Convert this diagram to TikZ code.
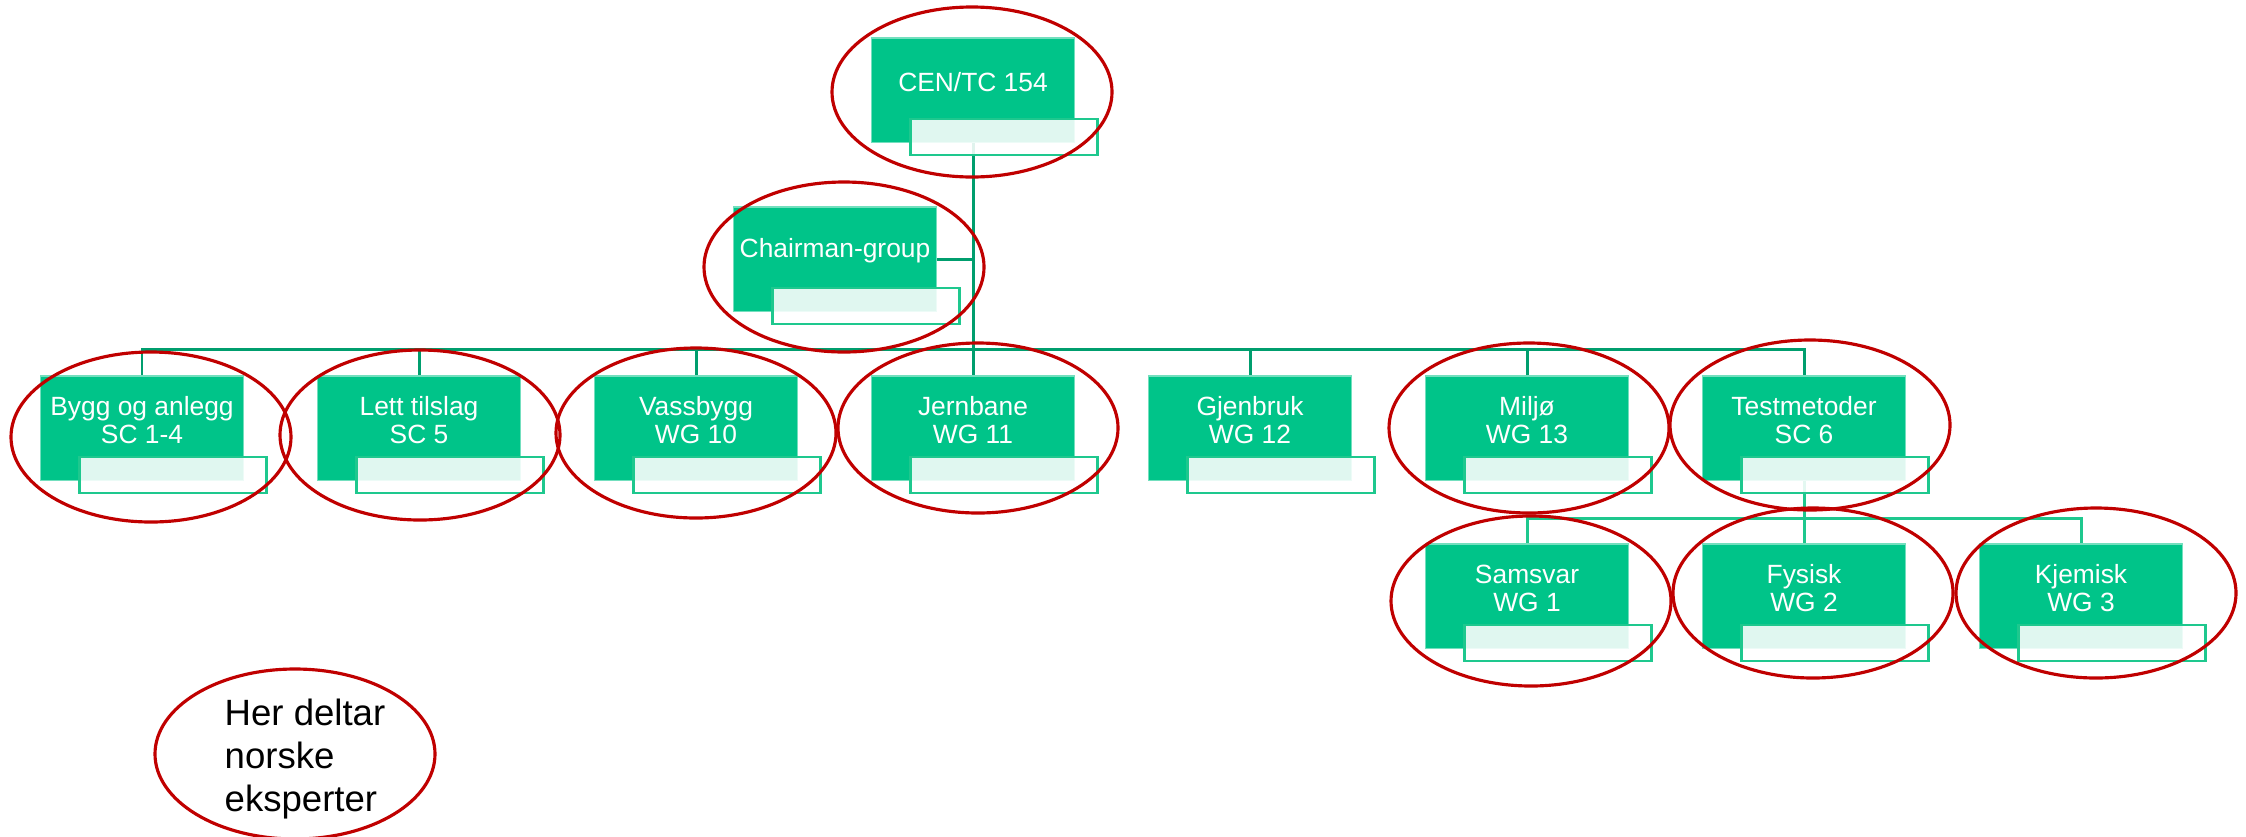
\documentclass[tikz,border=0pt]{standalone}
\usepackage{fontspec}
\setmainfont{Liberation Sans}
\usetikzlibrary{backgrounds}

\definecolor{tcgreen}{RGB}{0,196,137}
\definecolor{linkgreen}{RGB}{0,158,110}
\definecolor{subgreen}{RGB}{30,200,142}
\definecolor{ringred}{RGB}{192,0,0}

\tikzstyle{unit} = [fill=tcgreen, draw=tcgreen!55!white, line width=0.3pt, minimum width=2.03cm, minimum height=1.04cm, inner sep=0pt]
\tikzstyle{subunit} = [fill=white, fill opacity=0.88, draw=subgreen, line width=0.75pt, minimum width=1.87cm, minimum height=0.36cm, inner sep=0pt]
\tikzstyle{unitlabel} = [text=white, align=center, font=\fontsize{7.5}{8}\selectfont, inner sep=0pt]
\tikzstyle{legendtext} = [align=left, font=\fontsize{10.4}{12.2}\selectfont, inner sep=0pt]
\tikzstyle{link} = [draw=linkgreen, line width=0.85pt]
\tikzstyle{sublink} = [draw=subgreen, line width=0.85pt]
\tikzstyle{ring} = [draw=ringred, line width=0.9pt]

\begin{document}
\begin{tikzpicture}[x=0.01cm, y=-0.01cm]
	\useasboundingbox (0,0) rectangle (2246,836);

	% top of the tree
	\node (cen) at (973,90) [unit] {};
	\node (cen-s) at ([shift={(31,47)}]cen.center) [subunit] {};
	\node (cen-t) at ([shift={(0,-8)}]cen.center) [unitlabel] {CEN/TC 154};
	\node (chair) at (835,259) [unit] {};
	\node (chair-s) at ([shift={(31,47)}]chair.center) [subunit] {};
	\node (chair-t) at ([shift={(0,-8)}]chair.center) [unitlabel] {Chairman-group};

	% first row
	\node (bygg) at (142,428) [unit] {};
	\node (bygg-s) at ([shift={(31,47)}]bygg.center) [subunit] {};
	\node (bygg-t) at ([shift={(0,-8)}]bygg.center) [unitlabel] {Bygg og anlegg\\SC 1-4};
	\node (lett) at (419,428) [unit] {};
	\node (lett-s) at ([shift={(31,47)}]lett.center) [subunit] {};
	\node (lett-t) at ([shift={(0,-8)}]lett.center) [unitlabel] {Lett tilslag\\SC 5};
	\node (vass) at (696,428) [unit] {};
	\node (vass-s) at ([shift={(31,47)}]vass.center) [subunit] {};
	\node (vass-t) at ([shift={(0,-8)}]vass.center) [unitlabel] {Vassbygg\\WG 10};
	\node (jern) at (973,428) [unit] {};
	\node (jern-s) at ([shift={(31,47)}]jern.center) [subunit] {};
	\node (jern-t) at ([shift={(0,-8)}]jern.center) [unitlabel] {Jernbane\\WG 11};
	\node (gjen) at (1250,428) [unit] {};
	\node (gjen-s) at ([shift={(31,47)}]gjen.center) [subunit] {};
	\node (gjen-t) at ([shift={(0,-8)}]gjen.center) [unitlabel] {Gjenbruk\\WG 12};
	\node (milj) at (1527,428) [unit] {};
	\node (milj-s) at ([shift={(31,47)}]milj.center) [subunit] {};
	\node (milj-t) at ([shift={(0,-8)}]milj.center) [unitlabel] {Miljø\\WG 13};
	\node (test) at (1804,428) [unit] {};
	\node (test-s) at ([shift={(31,47)}]test.center) [subunit] {};
	\node (test-t) at ([shift={(0,-8)}]test.center) [unitlabel] {Testmetoder\\SC 6};

	% second row
	\node (sams) at (1527,596) [unit] {};
	\node (sams-s) at ([shift={(31,47)}]sams.center) [subunit] {};
	\node (sams-t) at ([shift={(0,-8)}]sams.center) [unitlabel] {Samsvar\\WG 1};
	\node (fys) at (1804,596) [unit] {};
	\node (fys-s) at ([shift={(31,47)}]fys.center) [subunit] {};
	\node (fys-t) at ([shift={(0,-8)}]fys.center) [unitlabel] {Fysisk\\WG 2};
	\node (kjem) at (2081,596) [unit] {};
	\node (kjem-s) at ([shift={(31,47)}]kjem.center) [subunit] {};
	\node (kjem-t) at ([shift={(0,-8)}]kjem.center) [unitlabel] {Kjemisk\\WG 3};

	\coordinate (bus) at (0,349);
	\coordinate (subbus) at (0,518);

	\begin{pgfonlayer}{background}
		\path[link] (cen.south) -- (jern.north);
		\path[link] (chair.east) -- (chair.east -| cen.south);
		\path[link] (bygg.north) -- (bygg.north |- bus) -- (test.north |- bus) -- (test.north);
		\path[link] (lett.north) -- (lett.north |- bus);
		\path[link] (vass.north) -- (vass.north |- bus);
		\path[link] (gjen.north) -- (gjen.north |- bus);
		\path[link] (milj.north) -- (milj.north |- bus);
		\path[sublink] (test.south) -- (fys.north);
		\path[sublink] (sams.north) -- (sams.north |- subbus) -- (kjem.north |- subbus) -- (kjem.north);
	\end{pgfonlayer}

	% red rings
	\draw[ring] (972,92) ellipse [x radius=140, y radius=85];
	\draw[ring] (844,267) ellipse [x radius=140, y radius=85];
	\draw[ring] (151,437) ellipse [x radius=140, y radius=85];
	\draw[ring] (420,435) ellipse [x radius=140, y radius=85];
	\draw[ring] (696,433) ellipse [x radius=140, y radius=85];
	\draw[ring] (978,428) ellipse [x radius=140, y radius=85];
	\draw[ring] (1529,428) ellipse [x radius=140, y radius=85];
	\draw[ring] (1810,425) ellipse [x radius=140, y radius=85];
	\draw[ring] (1531,601) ellipse [x radius=140, y radius=85];
	\draw[ring] (1813,593) ellipse [x radius=140, y radius=85];
	\draw[ring] (2096,593) ellipse [x radius=140, y radius=85];

	% legend
	\draw[ring] (295,754) ellipse [x radius=140, y radius=85];
	\node (legend) at (224,759) [legendtext, anchor=west] {Her deltar\\norske\\eksperter};
\end{tikzpicture}
\end{document}
